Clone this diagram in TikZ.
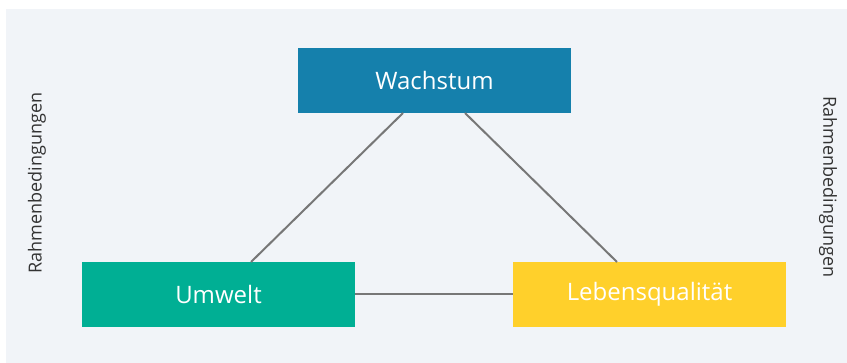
\documentclass[tikz,border=0pt]{standalone}
\usepackage{fontspec}
\setmainfont{Open Sans}
\definecolor{bgc}{HTML}{F1F4F8}
\definecolor{cblue}{HTML}{1580AC}
\definecolor{cgreen}{HTML}{00AF94}
\definecolor{cyellow}{HTML}{FFD02B}
\definecolor{cline}{HTML}{777777}
\definecolor{ctext}{HTML}{333333}
\tikzset{
  box/.style={minimum width=273pt, minimum height=65pt, inner sep=0pt, text=white, font=\fontsize{24}{28}\selectfont},
  link/.style={draw=cline, line width=2pt},
  side/.style={text=ctext, font=\fontsize{18}{22}\selectfont, inner sep=0pt}
}
\begin{document}
\begin{tikzpicture}[x=1pt,y=-1pt]
\useasboundingbox (0,0) rectangle (847,363);
\fill[white] (0,0) rectangle (847,363);
\fill[bgc] (6,9) rectangle (847,363);
\node[box, fill=cblue] (w) at (434.5,80.5) {Wachstum};
\node[box, fill=cgreen] (u) at (218.5,294.5) {Umwelt};
\node[box, fill=cyellow] (l) at (649.5,294.5) {Lebensqualität};
\coordinate (w1) at (403,113);
\coordinate (w2) at (465,113);
\coordinate (u1) at (251,262);
\coordinate (l1) at (617,262);
\draw[link] (w1) -- (u1);
\draw[link] (w2) -- (l1);
\draw[link] (u.east) -- (l.west);
\node[side, rotate=90] (rl) at (37,183) {Rahmenbedingungen};
\node[side, rotate=-90] (rr) at (828,187) {Rahmenbedingungen};
\end{tikzpicture}
\end{document}
